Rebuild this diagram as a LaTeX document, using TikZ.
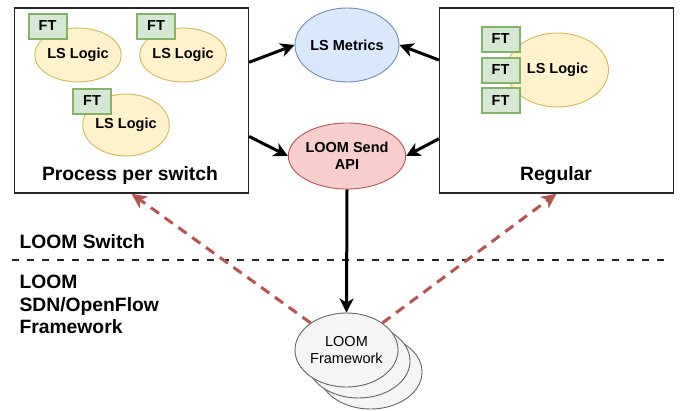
\documentclass[tikz,border=0pt]{standalone}
\usepackage{fontspec}
\setmainfont{Liberation Sans}
\usetikzlibrary{shapes.geometric,arrows.meta}
\definecolor{ftfill}{HTML}{D5E8D4}
\definecolor{ftline}{HTML}{82B366}
\definecolor{lsfill}{HTML}{FFF2CC}
\definecolor{lsline}{HTML}{D6B656}
\definecolor{mfill}{HTML}{DAE8FC}
\definecolor{mline}{HTML}{6C8EBF}
\definecolor{afill}{HTML}{F8CECC}
\definecolor{aline}{HTML}{B85450}
\definecolor{fwfill}{HTML}{F5F5F5}
\definecolor{fwline}{HTML}{666666}
\begin{document}
\begin{tikzpicture}[x=1pt,y=-1pt,
	lbl/.style={font=\fontsize{14.5}{17}\selectfont\bfseries},
	big/.style={font=\fontsize{19.3}{22.5}\selectfont\bfseries},
	box/.style={draw=black!85,line width=1.3pt,inner sep=0pt,minimum width=234pt,minimum height=185pt},
	ft/.style={draw=ftline,fill=ftfill,line width=2pt,minimum width=38pt,minimum height=25pt,inner sep=0pt,lbl},
	lslogic/.style={ellipse,draw=lsline,fill=lsfill,line width=0.9pt,minimum width=80pt,minimum height=54pt,inner sep=0pt,lbl},
	fwk/.style={ellipse,draw=fwline,fill=fwfill,line width=0.9pt,minimum width=103pt,minimum height=74pt,inner sep=0pt,align=center,font=\fontsize{14.5}{17}\selectfont},
	arr/.style={line width=3pt,-{Stealth[length=14pt,width=14pt,inset=4pt]}},
	ctrl/.style={aline,line width=3pt,dash pattern=on 10pt off 7pt,-{Stealth[length=15pt,width=14pt,inset=4pt]}},
	sepline/.style={black!85,line width=2pt,dash pattern=on 7pt off 8pt}]
\useasboundingbox (0,0) rectangle (680,410);

% switch side boxes
\node[box] (lbox) at (131.5,100.5) {};
\node[box] (rbox) at (556.5,100.5) {};
\node[big,anchor=base] (lname) at (130,180) {Process per switch};
\node[big,anchor=base] (rname) at (556,180) {Regular};

% per switch processes
\node[lslogic] (ls1) at (78,55) {LS Logic};
\node[ft] (ft1) at (47.5,26) {FT};
\node[lslogic] (ls2) at (183,55) {LS Logic};
\node[ft] (ft2) at (156,26) {FT};
\node[lslogic,minimum height=62pt] (ls3) at (126,125) {LS Logic};
\node[ft] (ft3) at (92,101) {FT};

% regular
\node[lslogic,minimum width=102pt,minimum height=74pt] (ls4) at (557.5,70) {LS Logic};
\node[ft] (ft4) at (500.5,39) {FT};
\node[ft] (ft5) at (500.5,70) {FT};
\node[ft] (ft6) at (500.5,100.5) {FT};

% middle
\node[ellipse,draw=mline,fill=mfill,line width=0.9pt,minimum width=104pt,minimum height=74pt,inner sep=0pt,lbl] (lsm) at (347,45) {LS Metrics};
\node[ellipse,draw=aline,fill=afill,line width=0.9pt,minimum width=105pt,minimum height=66pt,inner sep=0pt,lbl,align=center] (api) at (347,156) {LOOM Send\\API};

\draw[arr] (lbox.18) -- (lsm.west);
\draw[arr] (rbox.161) -- (lsm.east);
\draw[arr] (lbox.-17) -- (api.west);
\draw[arr] (rbox.198) -- (api.east);

% layers
\node[big,anchor=west] (swl) at (16,242) {LOOM Switch};
\coordinate (sepl) at (12,260);
\coordinate (sepr) at (668,260);
\draw[sepline] (sepl) -- (sepr);
\node[big,anchor=west,align=left] (fwl) at (16,304.5) {LOOM\\SDN/OpenFlow\\Framework};

% framework
\node[fwk] (fw3) at (370.5,372) {};
\node[fwk] (fw2) at (358.5,361) {};
\node[fwk] (fw) at (346.5,350) {LOOM\\Framework};

\draw[arr] (api.south) -- (fw.north);
\draw[ctrl] (fw.143) -- (lbox.south);
\draw[ctrl] (fw.37) -- (rbox.south);
\end{tikzpicture}
\end{document}
